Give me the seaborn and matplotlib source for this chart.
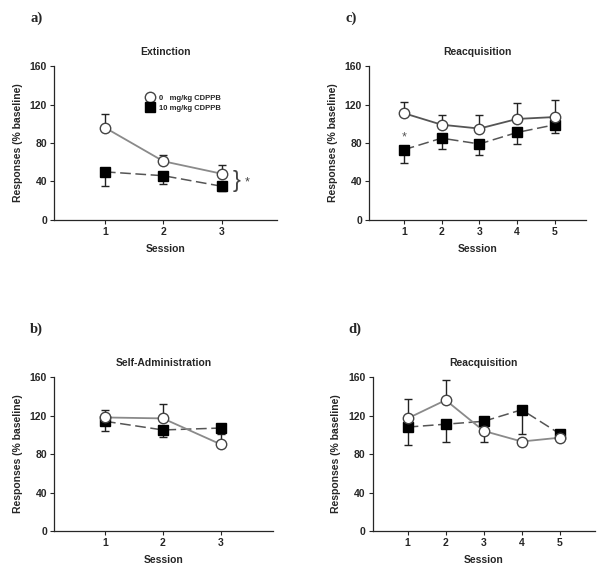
import matplotlib
matplotlib.use("Agg")
import matplotlib.pyplot as plt
from matplotlib.lines import Line2D
import seaborn as sns
import numpy as np
import pandas as pd

sns.set_style("ticks")
plt.rcParams['font.family'] = ['Liberation Sans', 'DejaVu Sans']

# panel a) Extinction
ext_session = [1, 2, 3]
ext_veh = [96, 61, 48]
ext_veh_err = [14, 7, 9]
ext_cdppb = [50, 46, 35]
ext_cdppb_err = [15, 9, 5]

# panel c) Reacquisition
reacq_session = [1, 2, 3, 4, 5]
reacq_veh = [111, 99, 95, 105, 107]
reacq_veh_err = [12, 10, 14, 17, 18]
reacq_cdppb = [73, 85, 79, 91, 99]
reacq_cdppb_err = [14, 11, 11, 12, 9]

# panel b) Self-Administration
sa_session = [1, 2, 3]
sa_veh = [118, 117, 90]
sa_veh_err = [8, 15, 12]
sa_cdppb = [114, 105, 107]
sa_cdppb_err = [10, 7, 6]

# panel d) Reacquisition
reacq2_session = [1, 2, 3, 4, 5]
reacq2_veh = [117, 136, 104, 93, 97]
reacq2_veh_err = [20, 21, 12, 0, 0]
reacq2_cdppb = [108, 111, 114, 126, 101]
reacq2_cdppb_err = [19, 18, 22, 25, 0]

yticks = [0, 40, 80, 120, 160]

fig = plt.figure(figsize=(6.02, 5.78), dpi=100)

def draw_panel(rect, letter, title, session, veh, veh_err, cdppb, cdppb_err,
               xlim, veh_color='#8a8a8a'):
    ax = fig.add_axes(rect)
    df = pd.DataFrame({'Session': session, 'veh': veh, 'cdppb': cdppb})
    # error bars: vehicle goes up, CDPPB goes down
    ax.errorbar(session, veh, yerr=[np.zeros(len(veh)), veh_err], fmt='none',
                ecolor='#222222', elinewidth=1, capsize=3, capthick=1, zorder=2)
    ax.errorbar(session, cdppb, yerr=[cdppb_err, np.zeros(len(cdppb))], fmt='none',
                ecolor='#222222', elinewidth=1, capsize=3, capthick=1, zorder=2)
    sns.lineplot(data=df, x='Session', y='cdppb', ax=ax, color='#555555', lw=1.1,
                 linestyle=(0, (7, 3)), zorder=3)
    ax.plot(session, cdppb, 's', color='black', ms=7, zorder=5)
    sns.lineplot(data=df, x='Session', y='veh', ax=ax, color=veh_color, lw=1.3, zorder=4)
    ax.plot(session, veh, 'o', mfc='white', mec='#444444', mew=1, ms=7.5, zorder=6)

    ax.set_xlim(xlim)
    ax.set_ylim(0, 160)
    ax.set_xticks(session)
    ax.set_yticks(yticks)
    ax.tick_params(labelsize=7.5, length=3, width=0.8, pad=2)
    for lab in ax.get_xticklabels() + ax.get_yticklabels():
        lab.set_fontweight('bold')
    ax.set_xlabel('Session', fontsize=7.5, fontweight='bold', labelpad=5)
    ax.set_ylabel('Responses (% baseline)', fontsize=7.5, fontweight='bold', labelpad=5)
    ax.set_title(title, fontsize=7.5, fontweight='bold', pad=8)
    for s in ['left', 'bottom']:
        ax.spines[s].set_linewidth(0.9)
    sns.despine(ax=ax)
    ax.text(-0.08, 1.31, letter, transform=ax.transAxes, fontsize=10.5,
            fontweight='bold', family='Liberation Serif', ha='center', va='center')
    return ax

ax_a = draw_panel([0.0897, 0.6194, 0.3704, 0.2664], 'a)', 'Extinction',
                  ext_session, ext_veh, ext_veh_err, ext_cdppb, ext_cdppb_err,
                  (0.13, 3.94))
handles = [Line2D([], [], marker='o', ls='none', mfc='white', mec='#444444', ms=7.5),
           Line2D([], [], marker='s', ls='none', color='black', ms=7.5)]
leg = ax_a.legend(handles, ['0   mg/kg CDPPB', '10 mg/kg CDPPB'], frameon=False,
                  loc='upper left', bbox_to_anchor=(0.38, 0.86), fontsize=5.5,
                  handletextpad=0.5, labelspacing=0.35, handlelength=1.2)
for t in leg.get_texts():
    t.set_fontweight('bold')
ax_a.text(3.25, 41, '}', fontsize=17, color='#444444', ha='center', va='center')
ax_a.text(3.43, 39, '*', fontsize=9, color='#444444', ha='center', va='center')

ax_c = draw_panel([0.613, 0.6194, 0.3605, 0.2664], 'c)', 'Reacquisition',
                  reacq_session, reacq_veh, reacq_veh_err, reacq_cdppb, reacq_cdppb_err,
                  (0.08, 5.82), veh_color='#555555')
ax_c.text(1, 86, '*', fontsize=9, color='#555555', ha='center', va='center')

ax_b = draw_panel([0.0897, 0.0813, 0.3638, 0.2664], 'b)', 'Self-Administration',
                  sa_session, sa_veh, sa_veh_err, sa_cdppb, sa_cdppb_err,
                  (0.12, 3.9))

ax_d = draw_panel([0.619, 0.0813, 0.369, 0.2664], 'd)', 'Reacquisition',
                  reacq2_session, reacq2_veh, reacq2_veh_err, reacq2_cdppb, reacq2_cdppb_err,
                  (0.08, 5.92))

fig.savefig('out.png', dpi=100)
